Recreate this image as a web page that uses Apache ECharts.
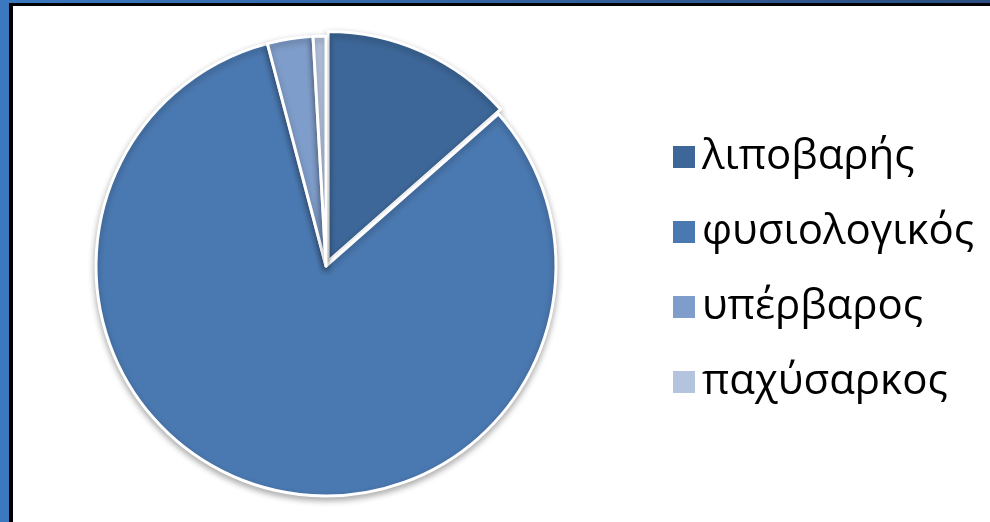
<!DOCTYPE html>
<html>
<head>
<meta charset="utf-8">
<script src="https://cdn.jsdelivr.net/npm/echarts@6/dist/echarts.min.js"></script>
<style>
html,body{margin:0;padding:0;background:#fff;}
#chart{width:990px;height:522px;}
</style>
</head>
<body>
<div id="chart"></div>
<script>
const categories = ['λιποβαρής', 'φυσιολογικός', 'υπέρβαρος', 'παχύσαρκος'];
const values = [13.5, 82.4, 3.2, 0.9];
const colors = ['#3d6798', '#4a78b0', '#7f9dca', '#b4c4df'];

const chart = echarts.init(document.getElementById('chart'), null, {renderer: 'canvas'});
chart.setOption({
  animation: false,
  backgroundColor: '#ffffff',
  color: colors,
  graphic: [
    {type: 'rect', shape: {x: 0, y: 0, width: 990, height: 3}, style: {fill: new echarts.graphic.LinearGradient(0, 0, 1, 0, [{offset: 0, color: '#3b78c0'}, {offset: 1, color: '#2a4e80'}])}},
    {type: 'rect', shape: {x: 0, y: 0, width: 9, height: 522}, style: {fill: '#3b78c0'}},
    {type: 'rect', shape: {x: 9, y: 3, width: 981, height: 3}, style: {fill: '#000'}},
    {type: 'rect', shape: {x: 9, y: 3, width: 4, height: 519}, style: {fill: '#000'}}
  ],
  legend: {
    orient: 'vertical',
    left: 666,
    top: 131,
    itemWidth: 24,
    itemHeight: 24,
    itemGap: 33,
    icon: 'rect',
    selectedMode: false,
    data: categories,
    textStyle: {fontFamily: 'Open Sans', fontSize: 42, lineHeight: 41, color: '#000', padding: [0, 0, 0, 1]}
  },
  series: [{
    type: 'pie',
    center: [326, 266],
    radius: 230,
    startAngle: 90,
    clockwise: true,
    selectedMode: 'single',
    selectedOffset: 5,
    label: {show: false},
    labelLine: {show: false},
    emphasis: {disabled: true},
    itemStyle: {borderColor: '#fff', borderWidth: 3, shadowBlur: 6, shadowColor: 'rgba(0,0,0,0.3)', shadowOffsetY: 3},
    data: categories.map((c, i) => ({name: c, value: values[i], selected: i === 0}))
  }]
});
</script>
</body>
</html>
